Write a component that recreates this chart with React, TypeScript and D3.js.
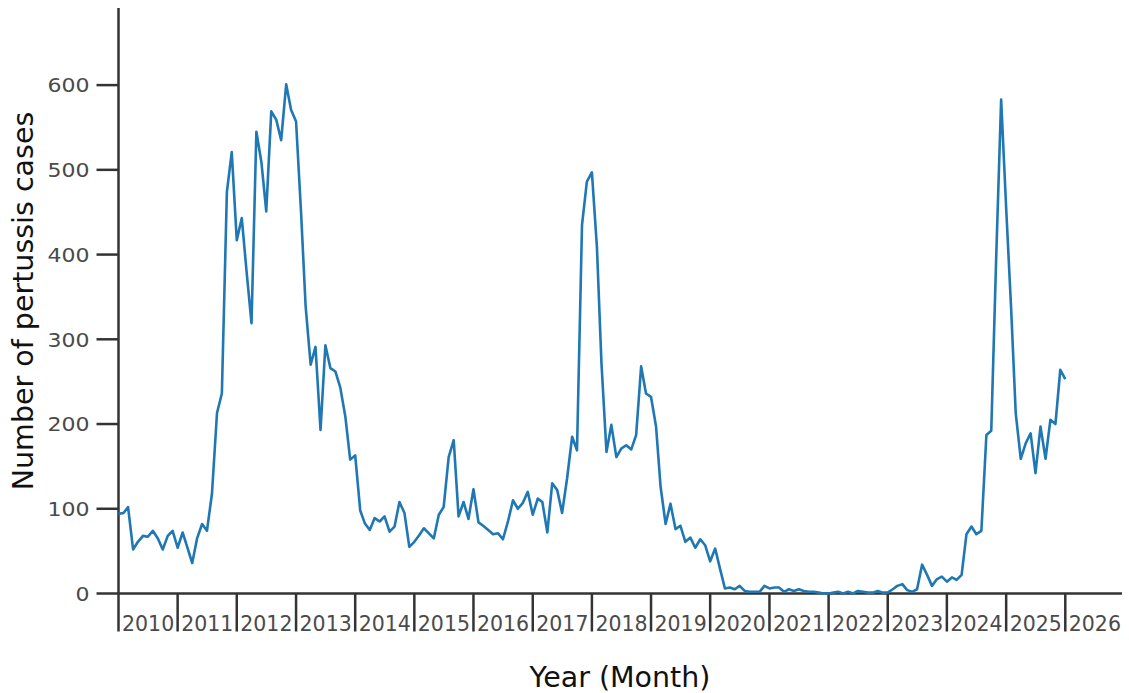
import React from 'react';
import * as d3 from 'd3';

// monthly case counts, Jan 2010 .. Jan 2026
const startYear = 2010;
const monthlyCases = [
  94, 95, 102, 52, 61, 68, 67, 74, 65, 52, 68, 74, // 2010
  54, 72, 55, 36, 65, 82, 74, 118, 213, 236, 474, 521, // 2011
  417, 443, 381, 319, 545, 509, 451, 569, 559, 535, 601, 571, // 2012
  557, 449, 339, 270, 291, 193, 293, 266, 262, 243, 209, 158, // 2013
  163, 98, 83, 75, 89, 85, 91, 73, 79, 108, 95, 55, // 2014
  61, 69, 77, 71, 65, 93, 102, 161, 181, 91, 108, 88, // 2015
  123, 84, 80, 75, 70, 71, 64, 85, 110, 100, 107, 120, // 2016
  93, 112, 108, 72, 130, 122, 95, 136, 185, 169, 435, 486, // 2017
  497, 409, 272, 167, 199, 161, 171, 175, 170, 187, 268, 236, // 2018
  232, 197, 126, 82, 106, 76, 80, 61, 66, 54, 64, 57, // 2019
  38, 53, 30, 6, 7, 5, 9, 3, 2, 2, 2, 9, // 2020
  6, 7, 7, 2, 5, 3, 5, 3, 2, 2, 1, 0, // 2021
  0, 1, 2, 0, 2, 0, 3, 2, 1, 1, 3, 1, // 2022
  1, 5, 9, 11, 4, 2, 5, 34, 22, 9, 17, 20, // 2023
  14, 19, 16, 22, 70, 79, 70, 74, 187, 192, 400, 583, // 2024
  455, 335, 213, 159, 177, 189, 142, 197, 159, 205, 200, 264, // 2025
  253, // 2026
];
const yearTicks = d3.range(2010, 2027);
const yTicks = [0, 100, 200, 300, 400, 500, 600];

const W = 1129;
const H = 693;
const axisColor = '#333333';
const tickTextColor = '#4a4a4a';
const font = '"DejaVu Sans", sans-serif';

const App: React.FC = () => {
  const left = 118.5;
  const right = 1122;
  const top = 8;
  const bottom = 593.5;

  const x = d3.scaleUtc()
    .domain([new Date(Date.UTC(2010, 0, 1)), new Date(Date.UTC(2026, 11, 17))])
    .range([left, right]);

  const y = d3.scaleLinear().domain([0, 691]).range([bottom, top]);

  const points = monthlyCases.map((v, i) => ({
    date: new Date(Date.UTC(startYear, i, 1)),
    value: v,
  }));

  const line = d3.line<{ date: Date; value: number }>()
    .x(d => x(d.date))
    .y(d => y(d.value));

  return (
    <svg
      width={W}
      height={H}
      style={{ position: 'absolute', left: 0, top: 0, background: '#fff' }}
      fontFamily={font}
    >
      {/* y axis */}
      <line x1={left} x2={left} y1={top} y2={bottom} stroke={axisColor} strokeWidth={2.5} />
      {yTicks.map(t => (
        <g key={t}>
          <line x1={left - 22} x2={left} y1={y(t)} y2={y(t)} stroke={axisColor} strokeWidth={2.5} />
          <text
            transform={`translate(${left - 29},${y(t)}) scale(1.1,1)`}
            dy="0.36em"
            textAnchor="end"
            fontSize={20}
            fill={tickTextColor}
          >
            {t}
          </text>
        </g>
      ))}

      {/* x axis */}
      <line x1={left} x2={right} y1={bottom} y2={bottom} stroke={axisColor} strokeWidth={2.5} />
      {yearTicks.map(yr => {
        const tx = x(new Date(Date.UTC(yr, 0, 1)));
        return (
          <g key={yr}>
            <line x1={tx} x2={tx} y1={bottom} y2={bottom + 38} stroke={axisColor} strokeWidth={2.5} />
            <text x={tx + 3.5} y={bottom + 37} fontSize={20.5} fill={tickTextColor}>
              {yr}
            </text>
          </g>
        );
      })}

      {/* data */}
      <path d={line(points) ?? ''} fill="none" stroke="#1f77b4" strokeWidth={2.6} strokeLinejoin="round" />

      {/* axis titles */}
      <text
        transform={`translate(${33},${301}) rotate(-90)`}
        textAnchor="middle"
        fontSize={28.5}
        fill="#111"
      >
        Number of pertussis cases
      </text>
      <text x={620} y={686.5} textAnchor="middle" fontSize={28.5} fill="#111">
        Year (Month)
      </text>
    </svg>
  );
};

export default App;
